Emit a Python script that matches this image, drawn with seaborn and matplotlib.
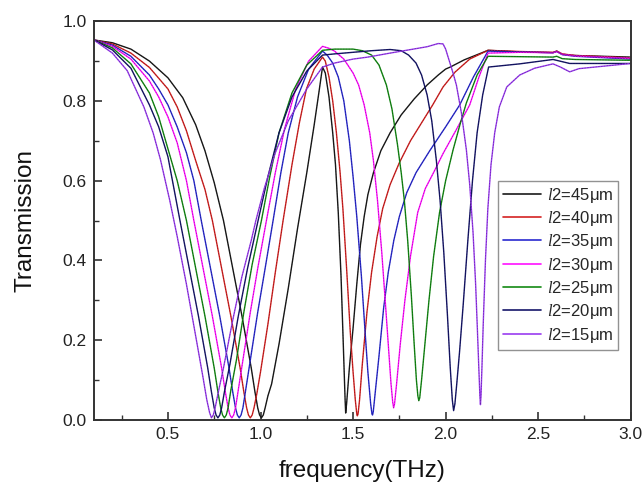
import numpy as np
import pandas as pd
import matplotlib
matplotlib.use("Agg")
import matplotlib.pyplot as plt
from matplotlib.ticker import MultipleLocator
import seaborn as sns

labels = ["45μm", "40μm", "35μm", "30μm", "25μm", "20μm", "15μm"]
colors = ["#1a1a1a", "#d42222", "#2a2ad0", "#ff10ff", "#148a14", "#16166a", "#9a3cf0"]

f45 = [0.10,0.20,0.30,0.40,0.50,0.58,0.65,0.70,0.75,0.80,0.85,0.90,0.95,0.97,0.985,0.995,1.005,1.015,1.025,1.04,1.06,1.08,1.10,1.15,1.20,1.25,1.29,1.315,1.335,
       1.35,1.37,1.39,1.405,1.42,1.435,1.445,1.452,1.457,1.46,1.465,1.47,1.48,1.50,1.52,1.54,1.56,1.58,1.61,1.65,1.70,1.76,1.83,1.90,1.96,2.00,2.025,2.10,2.229,2.40,2.58,2.60,2.63,2.70,3.00]
t45 = [0.953,0.946,0.930,0.900,0.858,0.808,0.740,0.675,0.595,0.500,0.380,0.260,0.130,0.070,0.030,0.012,0.005,0.012,0.030,0.060,0.090,0.140,0.190,0.330,0.480,0.620,0.740,0.820,0.885,
       0.870,0.810,0.720,0.640,0.520,0.360,0.220,0.120,0.050,0.017,0.040,0.070,0.130,0.230,0.340,0.440,0.510,0.565,0.620,0.675,0.720,0.765,0.805,0.840,0.865,0.880,0.885,0.903,0.927,0.923,0.921,0.925,0.917,0.914,0.910]

f40 = [0.10,0.20,0.30,0.40,0.50,0.55,0.60,0.65,0.70,0.74,0.79,0.84,0.89,0.91,0.925,0.935,0.945,0.955,0.965,0.98,1.00,1.04,1.08,1.122,1.17,1.21,1.248,1.29,1.335,
       1.35,1.37,1.39,1.41,1.43,1.445,1.465,1.485,1.50,1.512,1.52,1.523,1.527,1.535,1.55,1.575,1.60,1.63,1.66,1.70,1.75,1.81,1.87,1.93,1.986,2.05,2.13,2.229,2.40,2.58,2.60,2.63,2.70,3.00]
t40 = [0.953,0.943,0.920,0.884,0.830,0.785,0.725,0.650,0.578,0.500,0.380,0.260,0.130,0.070,0.030,0.012,0.005,0.012,0.030,0.065,0.120,0.240,0.370,0.500,0.640,0.745,0.830,0.880,0.910,
       0.900,0.860,0.800,0.720,0.620,0.530,0.380,0.220,0.120,0.050,0.015,0.010,0.015,0.050,0.140,0.270,0.370,0.460,0.530,0.590,0.645,0.700,0.745,0.790,0.835,0.872,0.905,0.927,0.924,0.922,0.925,0.918,0.914,0.908]

f35 = [0.10,0.20,0.30,0.40,0.45,0.50,0.55,0.60,0.64,0.68,0.73,0.78,0.83,0.85,0.865,0.875,0.885,0.895,0.905,0.92,0.945,0.985,1.025,1.068,1.11,1.15,1.20,1.26,1.335,
       1.36,1.39,1.42,1.45,1.48,1.50,1.52,1.545,1.565,1.58,1.595,1.602,1.605,1.609,1.62,1.64,1.665,1.69,1.72,1.75,1.79,1.84,1.914,2.00,2.076,2.15,2.229,2.40,2.58,2.60,2.63,2.70,3.00]
t35 = [0.953,0.940,0.912,0.865,0.830,0.790,0.735,0.670,0.600,0.500,0.380,0.260,0.130,0.070,0.030,0.012,0.005,0.012,0.030,0.075,0.150,0.270,0.380,0.500,0.620,0.720,0.810,0.880,0.925,
       0.915,0.895,0.860,0.800,0.700,0.610,0.510,0.360,0.220,0.120,0.040,0.015,0.012,0.020,0.070,0.160,0.280,0.370,0.450,0.510,0.570,0.620,0.675,0.735,0.790,0.860,0.925,0.923,0.921,0.924,0.916,0.912,0.905]

f30 = [0.10,0.20,0.30,0.40,0.45,0.50,0.55,0.60,0.64,0.69,0.74,0.79,0.81,0.825,0.835,0.845,0.855,0.865,0.88,0.905,0.945,0.985,1.032,1.08,1.13,1.19,1.26,1.335,
       1.37,1.40,1.45,1.50,1.53,1.56,1.59,1.61,1.632,1.655,1.675,1.69,1.705,1.714,1.719,1.724,1.735,1.755,1.78,1.81,1.849,1.89,1.94,1.986,2.06,2.13,2.18,2.229,2.40,2.58,2.60,2.63,2.70,3.00]
t30 = [0.953,0.937,0.905,0.850,0.810,0.760,0.695,0.600,0.500,0.380,0.260,0.130,0.070,0.030,0.012,0.005,0.012,0.030,0.075,0.150,0.270,0.380,0.500,0.620,0.730,0.830,0.900,0.937,
       0.932,0.925,0.905,0.870,0.840,0.790,0.720,0.650,0.550,0.420,0.290,0.190,0.090,0.045,0.030,0.040,0.090,0.190,0.300,0.410,0.520,0.580,0.625,0.668,0.730,0.790,0.860,0.920,0.922,0.921,0.924,0.917,0.913,0.907]

f25 = [0.10,0.20,0.30,0.40,0.45,0.50,0.55,0.60,0.65,0.70,0.75,0.77,0.785,0.795,0.805,0.815,0.825,0.84,0.87,0.91,0.955,1.005,1.05,1.10,1.17,1.25,1.335,
       1.40,1.50,1.55,1.60,1.64,1.68,1.71,1.74,1.76,1.777,1.795,1.815,1.83,1.842,1.85,1.855,1.86,1.87,1.89,1.91,1.935,1.967,2.00,2.04,2.08,2.112,2.17,2.229,2.40,2.58,2.60,2.63,2.70,3.00]
t25 = [0.953,0.933,0.893,0.820,0.760,0.680,0.600,0.500,0.380,0.260,0.130,0.070,0.030,0.012,0.005,0.012,0.030,0.075,0.150,0.270,0.390,0.500,0.610,0.720,0.820,0.890,0.927,
       0.930,0.930,0.926,0.915,0.890,0.840,0.780,0.690,0.620,0.550,0.450,0.310,0.190,0.100,0.060,0.048,0.055,0.100,0.200,0.300,0.410,0.520,0.600,0.677,0.745,0.795,0.865,0.912,0.911,0.910,0.912,0.906,0.904,0.902]

f20 = [0.10,0.20,0.30,0.40,0.45,0.50,0.565,0.615,0.665,0.715,0.735,0.75,0.76,0.770,0.78,0.79,0.805,0.835,0.88,0.93,0.987,1.04,1.10,1.17,1.25,1.335,
       1.40,1.50,1.60,1.70,1.76,1.80,1.84,1.87,1.90,1.925,1.95,1.97,1.99,2.01,2.025,2.036,2.043,2.05,2.06,2.075,2.095,2.12,2.145,2.17,2.20,2.232,2.40,2.58,2.67,3.00]
t20 = [0.953,0.928,0.882,0.790,0.735,0.660,0.500,0.380,0.260,0.130,0.070,0.030,0.012,0.005,0.012,0.030,0.070,0.140,0.260,0.380,0.500,0.610,0.720,0.810,0.875,0.915,
       0.918,0.922,0.926,0.929,0.926,0.915,0.895,0.865,0.815,0.750,0.650,0.550,0.420,0.260,0.130,0.050,0.023,0.040,0.090,0.170,0.290,0.450,0.600,0.720,0.815,0.885,0.893,0.904,0.894,0.894]

f15 = [0.10,0.20,0.28,0.37,0.42,0.46,0.51,0.55,0.60,0.65,0.69,0.71,0.725,0.735,0.745,0.755,0.77,0.80,0.85,0.90,0.95,0.975,1.02,1.08,1.15,1.25,1.335,
       1.40,1.50,1.58,1.70,1.80,1.90,1.96,1.986,2.00,2.02,2.04,2.058,2.085,2.112,2.13,2.148,2.162,2.172,2.18,2.185,2.188,2.191,2.196,2.203,2.215,2.228,2.245,2.265,2.29,2.33,2.40,2.48,2.58,2.62,2.67,2.72,3.00]
t15 = [0.953,0.920,0.876,0.785,0.720,0.652,0.550,0.460,0.340,0.210,0.105,0.050,0.018,0.005,0.012,0.030,0.065,0.130,0.250,0.360,0.450,0.500,0.580,0.670,0.750,0.830,0.885,
       0.895,0.905,0.910,0.920,0.928,0.936,0.944,0.943,0.930,0.900,0.870,0.840,0.770,0.677,0.590,0.470,0.340,0.220,0.120,0.060,0.038,0.060,0.130,0.240,0.400,0.530,0.640,0.720,0.785,0.835,0.865,0.882,0.893,0.885,0.873,0.881,0.894]

freqs = [f45, f40, f35, f30, f25, f20, f15]
trans = [t45, t40, t35, t30, t25, t20, t15]

x_ticks = [0.5, 1.0, 1.5, 2.0, 2.5, 3.0]
y_ticks = [0.0, 0.2, 0.4, 0.6, 0.8, 1.0]

frames = []
for lab, fx, ty in zip(labels, freqs, trans):
    frames.append(pd.DataFrame({"freq": fx, "T": ty, "series": lab}))
df = pd.concat(frames, ignore_index=True)

sns.set_theme(style="white")
plt.rcParams["font.family"] = ["Liberation Sans", "DejaVu Sans"]
plt.rcParams["mathtext.fontset"] = "custom"
plt.rcParams["mathtext.it"] = "Liberation Serif:italic"
plt.rcParams["mathtext.rm"] = "Liberation Sans"

fig = plt.figure(figsize=(6.43, 4.82), dpi=100)
ax = fig.add_axes([0.146, 0.129, 0.835, 0.827])

palette = dict(zip(labels, colors))
sns.lineplot(data=df, x="freq", y="T", hue="series", palette=palette, hue_order=labels,
             estimator=None, sort=False, lw=1.0, ax=ax)
# thin dark dashed overlay, as in the original trace rendering
sns.lineplot(data=df, x="freq", y="T", units="series", estimator=None, sort=False,
             color="black", lw=0.5, alpha=0.3, linestyle=(0, (2, 2)),
             legend=False, ax=ax)

ax.set_xlim(0.1, 3.0)
ax.set_ylim(0.0, 1.0)
ax.set_xticks(x_ticks)
ax.set_xticklabels([f"{v:.1f}" for v in x_ticks])
ax.set_yticks(y_ticks)
ax.set_yticklabels([f"{v:.1f}" for v in y_ticks])
ax.xaxis.set_minor_locator(MultipleLocator(0.25))
ax.yaxis.set_minor_locator(MultipleLocator(0.1))
ax.tick_params(axis="both", which="major", direction="in", length=6, width=1.2,
               colors="#333333", labelcolor="#222222", labelsize=12.5,
               bottom=True, left=True, top=False, right=False, pad=5)
ax.tick_params(axis="both", which="minor", direction="in", length=3.5, width=1.0,
               colors="#333333", bottom=True, left=True, top=False, right=False)
for s in ax.spines.values():
    s.set_visible(True)
    s.set_color("#333333")
    s.set_linewidth(1.4)

ax.set_xlabel("frequency(THz)", fontsize=17.5, color="#111111", labelpad=13)
ax.set_ylabel("Transmission", fontsize=17.5, color="#111111", labelpad=19)

handles, _ = ax.get_legend_handles_labels()
leg_labels = [r"$\mathit{l2}$=" + lab for lab in labels]
leg = ax.legend(handles[:len(labels)], leg_labels, loc="upper left", bbox_to_anchor=(0.752, 0.60),
                borderaxespad=0.0, frameon=True, fancybox=False, edgecolor="#777777",
                fontsize=12, handlelength=2.3, handletextpad=0.35, labelspacing=0.26,
                borderpad=0.3)
leg.get_frame().set_linewidth(1.0)
for h in leg.get_lines():
    h.set_linewidth(1.2)

fig.savefig("out.png", dpi=100)
